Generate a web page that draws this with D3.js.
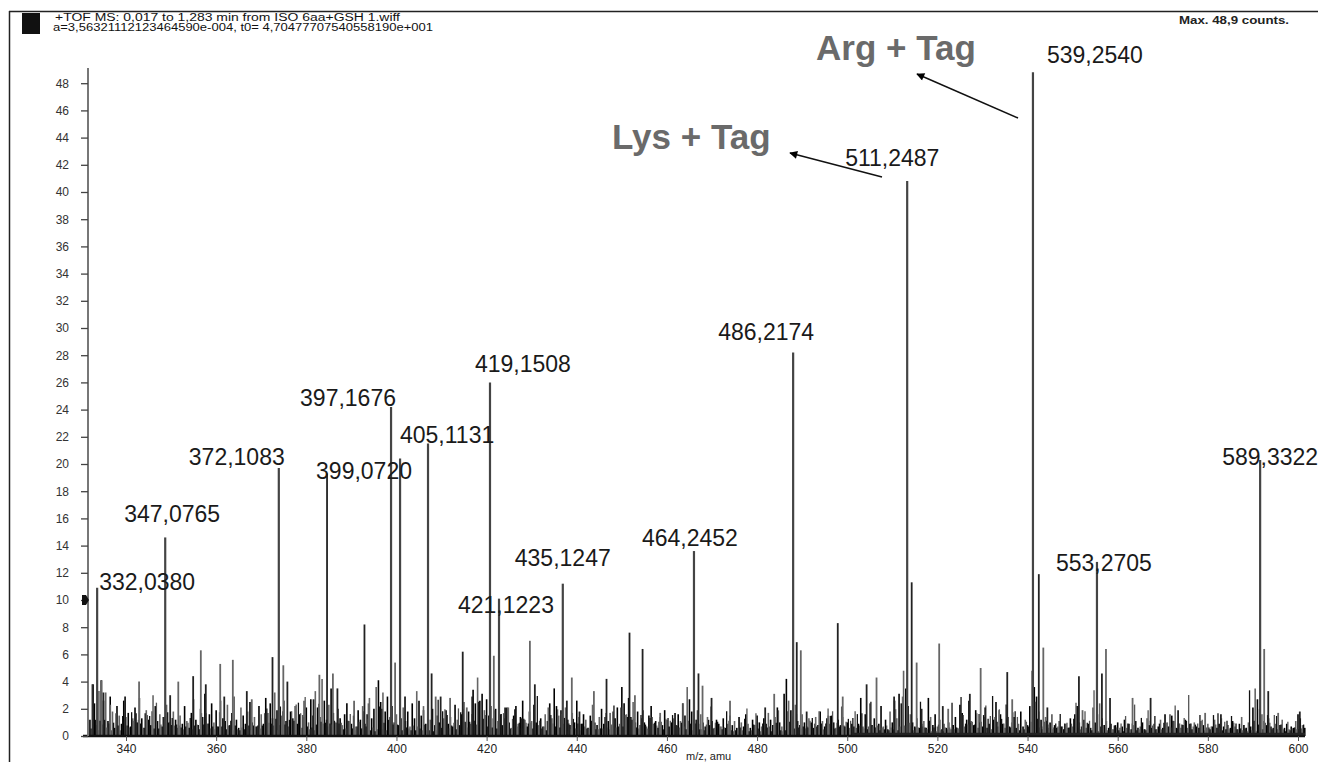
<!DOCTYPE html>
<html><head><meta charset="utf-8">
<script src="https://cdn.jsdelivr.net/npm/d3@7"></script>
<style>
html,body{margin:0;padding:0;background:#fff;}
svg{display:block;font-family:"Liberation Sans",Arial,sans-serif;}
</style></head>
<body><svg id="c" width="1318" height="762"></svg>
<script>
// ---------- DATA ----------
const headerLine1 = "+TOF MS: 0,017 to 1,283 min from ISO 6aa+GSH 1.wiff";
const headerLine2 = "a=3,56321112123464590e-004, t0= 4,70477707540558190e+001";
const maxText = "Max. 48,9 counts.";
const xTicks = [340,360,380,400,420,440,460,480,500,520,540,560,580,600];
const yTicks = [0,2,4,6,8,10,12,14,16,18,20,22,24,26,28,30,32,34,36,38,40,42,44,46,48];
const xTitle = "m/z, amu";

// labelled peaks: position on drawn m/z axis, intensity (counts), label
const peakMz  = [333.6,348.7,373.9,398.8,400.8,407.0,420.75,422.75,436.9,466.0,488.0,513.3,541.2,555.4,591.6];
const peakInt = [10.9,14.6,19.7,24.2,20.4,21.5,26.0,10.1,11.2,13.6,28.2,40.8,48.8,12.8,20.3];
const peakLabels = ["332,0380","347,0765","372,1083","397,1676","399,0720","405,1131","419,1508","421,1223",
                    "435,1247","464,2452","486,2174","511,2487","539,2540","553,2705","589,3322"];
// unlabelled but distinct peaks
const minorMz  = [332.7,334.6,335.0,336.5,339.8,342.9,349.8,351.6,354.9,356.6,357.7,360.9,361.8,363.7,366.8,367.9,372.5,374.9,375.8,379.5,
                  381.6,382.9,384.6,385.9,386.9,390.6,392.9,393.8,396.7,399.7,401.9,406.0,407.8,408.7,409.8,411.9,414.7,415.6,416.8,421.6,
                  424.1,424.8,427.8,429.6,430.7,433.7,437.8,438.9,440.6,443.8,446.6,447.4,451.7,452.9,454.6,458.5,461.8,463.6,467.0,467.9,
                  469.9,474.0,481.8,483.8,488.8,489.7,491.0,495.8,497.9,499.0,504.3,506.5,510.4,512.3,514.3,515.4,516.5,520.4,521.2,522.4,
                  527.2,529.6,530.6,533.7,535.5,536.6,542.5,543.5,544.4,545.4,551.4,552.2,556.5,557.4,558.3,563.3,567.3,571.6,573.4,579.4,
                  582.9,592.5,593.4,595.6,600.4];
const minorInt = [3.8,4.1,3.2,2.3,2.9,4.0,3.0,4.0,4.4,6.3,3.8,5.3,2.9,5.6,3.3,2.7,5.8,5.2,4.0,2.6,
                  2.7,4.5,19.3,4.6,3.5,2.6,8.2,2.4,2.0,5.4,2.9,1.9,4.6,2.9,2.9,2.8,6.2,2.1,2.9,5.9,
                  2.1,2.1,1.3,7.0,3.8,2.1,2.6,4.3,1.8,3.3,4.2,1.7,7.6,3.0,6.4,1.7,1.7,2.4,4.6,3.7,
                  2.8,2.6,2.1,3.1,6.9,6.3,1.8,1.5,8.3,2.9,3.8,4.3,2.9,2.9,11.3,5.4,2.0,6.8,2.2,2.0,
                  3.1,5.0,2.1,1.9,4.7,2.7,11.9,6.5,2.1,1.6,4.4,1.9,4.6,6.4,2.8,2.8,2.8,1.6,1.9,1.7,
                  1.6,6.4,3.3,1.7,1.8];
// background "grass", sampled every 0.5 m/z from 332.0
const grassStart = 332.0, grassStep = 0.5;
const grassInt = [
 1.2,3.8,2.4,0.8,3.3,4.1,2.6,3.2,1.1,2.9,1.8,0.6,2.2,1.5,0.9,2.6,1.4,1.7,0.7,1.3,
 2.1,1.0,2.8,1.3,0.6,1.9,1.2,0.8,3.0,2.2,1.1,1.6,0.7,1.4,2.3,1.0,0.8,1.8,1.2,0.6,
 1.5,0.9,2.2,1.1,0.6,1.7,2.7,1.2,0.8,2.0,1.4,3.1,0.9,1.6,2.4,1.0,1.9,0.7,2.6,1.3,
 1.1,2.3,0.8,1.7,2.9,1.2,0.6,2.1,1.5,0.9,1.8,2.5,1.0,1.4,0.7,2.2,1.6,0.9,2.8,1.7,
 2.4,1.3,3.2,1.9,0.8,1.5,2.6,1.1,0.7,1.8,1.3,2.2,0.9,1.6,0.6,1.4,2.1,1.0,2.7,1.5,
 3.3,2.1,1.4,4.2,2.6,1.2,2.3,3.5,1.7,1.0,2.0,1.3,0.8,1.6,2.4,1.1,0.9,1.5,0.7,1.9,
 1.2,2.2,0.9,1.6,2.8,1.3,2.0,3.6,4.1,2.5,3.2,1.8,2.9,1.4,2.2,1.0,1.6,0.8,1.3,2.1,
 1.1,1.8,0.7,2.4,1.3,3.3,2.6,1.5,2.2,0.9,1.7,1.2,2.0,0.8,1.5,1.0,0.6,1.3,1.9,0.9,
 1.4,0.7,2.3,1.2,0.8,1.6,2.5,1.0,1.8,0.9,3.4,2.4,4.3,2.6,3.1,1.9,2.7,1.5,2.2,1.3,
 2.0,1.1,1.6,0.8,1.3,2.1,1.0,0.6,1.5,2.2,0.9,1.4,2.6,1.2,0.7,1.8,1.1,2.3,1.0,0.8,
 1.3,0.7,1.6,1.1,2.4,1.3,3.5,2.2,1.5,1.9,0.9,2.1,1.2,0.8,1.7,1.0,2.6,1.4,0.9,1.6,
 1.2,0.6,1.5,2.3,1.0,0.8,1.4,2.0,0.9,1.7,1.1,0.7,1.8,1.3,2.1,0.9,3.6,2.4,1.6,2.8,
 1.4,2.5,1.0,1.8,0.8,1.3,1.0,0.7,1.5,2.2,0.9,1.1,0.6,1.4,0.8,1.9,1.2,0.7,1.0,1.3,
 0.8,1.6,1.1,2.4,1.5,3.6,2.7,1.8,2.3,1.2,0.9,1.6,1.0,0.7,1.4,0.8,1.1,0.6,1.2,0.9,
 0.7,1.3,0.6,0.9,1.5,0.8,1.1,0.6,1.4,1.0,0.7,1.6,0.9,0.6,1.2,0.8,1.5,1.0,0.7,1.3,
 0.9,1.7,1.2,0.8,1.4,2.1,1.0,0.7,3.1,4.2,2.6,1.9,1.4,2.3,1.1,0.8,1.6,1.0,0.7,1.3,
 1.0,0.6,1.4,0.8,1.8,1.1,0.7,1.3,0.9,1.5,1.0,0.6,1.2,0.8,1.4,0.7,1.0,0.6,0.9,0.7,
 0.6,0.9,2.8,0.7,1.6,0.5,2.4,0.8,1.3,0.6,0.9,2.2,0.7,1.2,0.5,1.8,1.0,2.6,1.3,3.1,
 2.4,4.8,3.5,2.2,1.6,1.0,0.7,1.3,0.6,0.9,1.1,0.6,2.8,1.4,0.8,1.6,0.7,1.2,0.5,0.9,
 0.6,1.0,0.5,0.8,1.4,0.6,2.3,1.7,0.7,1.2,2.6,1.1,0.8,1.9,0.6,1.0,0.7,1.4,0.6,0.9,
 0.5,1.2,2.5,0.7,1.6,0.9,0.6,1.3,0.7,1.0,1.4,0.6,0.9,1.8,0.7,1.2,0.8,2.2,4.8,3.6,
 2.9,1.8,1.2,0.7,1.4,0.6,1.0,0.5,0.8,0.6,1.1,0.7,0.5,0.9,0.6,1.3,0.7,1.6,2.2,1.0,
 0.7,1.2,0.6,0.9,0.6,2.1,1.0,1.6,2.4,1.3,0.8,1.1,0.6,0.9,0.5,0.8,1.0,0.6,0.7,1.2,
 0.6,0.9,0.5,0.8,1.1,0.6,0.7,1.0,0.5,1.3,0.8,0.6,0.9,0.5,0.7,1.2,0.6,1.6,1.0,0.7,
 1.5,1.1,0.6,0.9,0.6,0.8,1.2,0.6,0.9,0.5,1.0,0.7,0.6,1.1,0.8,0.6,0.9,0.5,0.7,1.2,
 0.6,0.9,1.3,0.7,0.5,0.8,0.6,1.1,0.7,0.5,0.9,1.4,0.8,0.6,1.0,0.7,2.1,3.5,2.7,2.0,
 1.6,1.1,0.8,1.3,0.7,0.6,0.9,0.5,0.8,1.2,0.6,0.9,0.5,0.7,0.6,1.1,1.6,1.3,0.8,0.6];
// annotations
const annoText = ["Arg + Tag","Lys + Tag"];

// ---------- LAYOUT / STYLE ----------
const labelOffsets = [[2,2],[-41,-15],[-90,-3],[-91,-1],[-84,20],[-28,-1],[-15,-10],[-41,14],
                      [-48,-18],[-52,-5],[-75,-12],[-62,-15],[14,-9],[-41,9],[-38,5]];
const annoPos = [{tx:816,ty:60, x1:1018,y1:118, x2:917,y2:74},
                 {tx:612,ty:149,x1:882,y1:177, x2:790,y2:153}];

const svg = d3.select("#c");
const x = d3.scaleLinear().domain([340,600]).range([126,1298]);
const y = d3.scaleLinear().domain([0,48]).range([736,83.2]);
const x1 = x.invert(1305);

svg.append("defs").append("marker").attr("id","ah").attr("viewBox","0 0 10 10")
  .attr("refX",9).attr("refY",5).attr("markerWidth",10).attr("markerHeight",8)
  .attr("markerUnits","userSpaceOnUse").attr("orient","auto")
  .append("path").attr("d","M0,0L10,5L0,10z").attr("fill","#000");

// frame
svg.append("line").attr("x1",9).attr("x2",1318).attr("y1",11.5).attr("y2",11.5).attr("stroke","#222").attr("stroke-width",1.5);
svg.append("line").attr("x1",9.5).attr("x2",9.5).attr("y1",11).attr("y2",762).attr("stroke","#222").attr("stroke-width",1.5);
svg.append("rect").attr("x",22).attr("y",13).attr("width",18).attr("height",21).attr("fill","#111");
svg.append("text").attr("x",55).attr("y",21).attr("font-size",10).attr("fill","#111")
  .attr("textLength",345).attr("lengthAdjust","spacingAndGlyphs").text(headerLine1);
svg.append("text").attr("x",53).attr("y",31).attr("font-size",10).attr("fill","#111")
  .attr("textLength",380).attr("lengthAdjust","spacingAndGlyphs").text(headerLine2);
svg.append("text").attr("x",1179).attr("y",24).attr("font-size",11).attr("fill","#222").attr("font-weight","bold")
  .attr("textLength",110).attr("lengthAdjust","spacingAndGlyphs").text(maxText);

// grass
const grass = grassInt.map((v,i)=>({mz:grassStart+i*grassStep, v:v, i:i}));
svg.append("g").selectAll("line").data(grass).join("line")
  .attr("x1",d=>x(d.mz)).attr("x2",d=>x(d.mz)).attr("y1",y(0)).attr("y2",d=>y(d.v))
  .attr("stroke",d=>d.i%3===1?"#666":"#000").attr("stroke-width",1.6);
const grass2 = grassInt.map((v,i)=>({mz:grassStart+i*grassStep+0.25, v:grassInt[(i*7+3)%grassInt.length]*0.7, i:i}))
  .filter(d=>d.mz<=x1);
svg.append("g").selectAll("line").data(grass2).join("line")
  .attr("x1",d=>x(d.mz)).attr("x2",d=>x(d.mz)).attr("y1",y(0)).attr("y2",d=>y(d.v))
  .attr("stroke",d=>d.i%2?"#555":"#111").attr("stroke-width",1.3);

// minor peaks
const minor = minorMz.map((m,i)=>({mz:m,v:minorInt[i],i:i}));
svg.append("g").selectAll("line").data(minor).join("line")
  .attr("x1",d=>x(d.mz)).attr("x2",d=>x(d.mz)).attr("y1",y(0)).attr("y2",d=>y(d.v))
  .attr("stroke",d=>d.i%2?"#666":"#222").attr("stroke-width",1.8);

// main peaks
const peaks = peakMz.map((m,i)=>({mz:m,v:peakInt[i],label:peakLabels[i],off:labelOffsets[i]}));
svg.append("g").selectAll("line").data(peaks).join("line")
  .attr("x1",d=>x(d.mz)).attr("x2",d=>x(d.mz)).attr("y1",y(0)).attr("y2",d=>y(d.v))
  .attr("stroke","#444").attr("stroke-width",2.2);
svg.append("g").selectAll("text").data(peaks).join("text")
  .attr("x",d=>x(d.mz)+d.off[0]).attr("y",d=>y(d.v)+d.off[1])
  .attr("font-size",23).attr("fill","#1a1a1a").text(d=>d.label);

// baseline
svg.append("line").attr("x1",83).attr("x2",1305).attr("y1",y(0)).attr("y2",y(0)).attr("stroke","#111").attr("stroke-width",2.5);
svg.append("line").attr("x1",x(501)).attr("x2",1305).attr("y1",y(0)-2).attr("y2",y(0)-2).attr("stroke","#222").attr("stroke-width",2.5);

// y axis
const yAxisG = svg.append("g").attr("transform","translate(88,0)");
yAxisG.append("line").attr("x1",0).attr("x2",0).attr("y1",68).attr("y2",y(0)).attr("stroke","#777").attr("stroke-width",2);
yAxisG.call(d3.axisLeft(y).tickValues(d3.range(0,49.5,0.5)).tickSize(3).tickFormat(""))
  .call(g=>g.select(".domain").remove());
yAxisG.call(d3.axisLeft(y).tickValues(yTicks).tickSize(7).tickPadding(12).tickFormat(d=>d))
  .call(g=>g.select(".domain").remove());
yAxisG.selectAll(".tick line").attr("stroke","#444").attr("stroke-width",1.3);
yAxisG.selectAll(".tick text").attr("font-size",12).attr("fill","#333").attr("font-family","Liberation Sans, Arial, sans-serif");

// threshold flag
svg.append("path").attr("d",`M82,${y(10)-5}L86,${y(10)-5}L89,${y(10)}L86,${y(10)+5}L82,${y(10)+5}Z`).attr("fill","#111");

// x axis
const xAxisG = svg.append("g").attr("transform",`translate(0,${y(0)})`);
xAxisG.call(d3.axisBottom(x).tickValues(d3.range(330,601,10)).tickSize(3).tickFormat(""))
  .call(g=>g.select(".domain").remove());
xAxisG.call(d3.axisBottom(x).tickValues(xTicks).tickSize(5).tickPadding(3).tickFormat(d=>d))
  .call(g=>g.select(".domain").remove());
xAxisG.selectAll(".tick line").attr("stroke","#555");
xAxisG.selectAll(".tick text").attr("font-size",12).attr("fill","#222").attr("font-family","Liberation Sans, Arial, sans-serif");
svg.append("text").attr("x",686).attr("y",760).attr("font-size",11).attr("fill","#222").text(xTitle);

// annotations
annoText.forEach((t,i)=>{
  const a = annoPos[i];
  svg.append("text").attr("x",a.tx).attr("y",a.ty).attr("font-size",35).attr("font-weight","bold")
    .attr("fill","#6a6a6a").text(t);
  svg.append("line").attr("x1",a.x1).attr("y1",a.y1).attr("x2",a.x2).attr("y2",a.y2)
    .attr("stroke","#111").attr("stroke-width",1.5).attr("marker-end","url(#ah)");
});
</script></body></html>
